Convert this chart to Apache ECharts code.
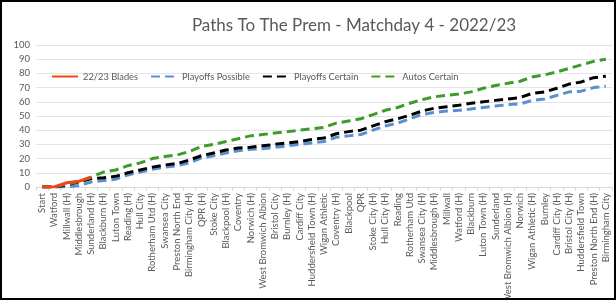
<!DOCTYPE html>
<html>
<head>
<meta charset="utf-8">
<script src="https://cdn.jsdelivr.net/npm/echarts@6/dist/echarts.min.js"></script>
<style>
  html, body { margin: 0; padding: 0; background: #fff; }
  #chart { width: 616px; height: 300px; }
  #frame { position: absolute; left: 0; top: 0; width: 616px; height: 300px; box-sizing: border-box; border: 2px solid #000; pointer-events: none; }
</style>
</head>
<body>
<div id="chart"></div>
<div id="frame"></div>
<script>
const fixtures = ['Start', 'Watford', 'Millwall (H)', 'Middlesbrough', 'Sunderland (H)', 'Blackburn (H)',
  'Luton Town', 'Reading (H)', 'Hull City', 'Rotherham Utd (H)', 'Swansea City', 'Preston North End',
  'Birmingham City (H)', 'QPR (H)', 'Stoke City', 'Blackpool (H)', 'Coventry', 'Norwich (H)',
  'West Bromwich Albion', 'Bristol City', 'Burnley (H)', 'Cardiff City', 'Huddersfield Town (H)',
  'Wigan Athletic', 'Coventry (H)', 'Blackpool', 'QPR', 'Stoke City (H)', 'Hull City (H)', 'Reading',
  'Rotherham Utd', 'Swansea City (H)', 'Middlesbrough (H)', 'Millwall', 'Watford (H)', 'Blackburn',
  'Luton Town (H)', 'Sunderland', 'West Bromwich Albion (H)', 'Norwich', 'Wigan Athletic (H)',
  'Burnley', 'Cardiff City (H)', 'Bristol City (H)', 'Huddersfield Town', 'Preston North End (H)',
  'Birmingham City']

// points after each game
const blades = [0, 0, 3, 4, 7]
const playoffsPossible = [0, 0, 0, 1, 3.5, 4.5, 5.5, 8.5, 10.5, 12.5, 14, 15, 17, 20.5, 22, 24, 25.5,
  26.5, 27, 28, 29, 30, 31, 32, 35, 36, 37, 40, 43, 45, 48, 51, 52.5, 53.5, 54, 55, 56, 57, 58, 58.5,
  61, 62, 64.5, 67, 67.5, 70, 71]
const playoffsCertain = [0, 0, 1.5, 3.5, 6, 6.5, 7.5, 10, 12, 14, 15.5, 16.5, 19, 22, 24, 26, 27.5,
  28, 29, 30, 31, 32, 33.5, 34.5, 37.5, 39, 40, 43, 46, 48, 50.5, 53.5, 55.5, 56.5, 57.5, 59, 60, 61,
  62, 63, 66, 67, 69.5, 72.5, 74, 77, 78]
const autosCertain = [0, 0, 2, 4, 7, 10.5, 12, 15, 17, 20, 21.5, 22.5, 25, 28.5, 30, 32, 34, 36, 37,
  38, 39, 40, 41, 42, 45, 46.5, 48, 51, 54, 56, 59, 61.5, 63.5, 64.5, 65.5, 67, 69.5, 71.5, 73, 74.5,
  77.5, 79, 81, 83.5, 86, 88.5, 90]

const chart = echarts.init(document.getElementById('chart'))
const font = 'Lato, "Open Sans", sans-serif'
const dash = [9, 5]

chart.setOption({
  animation: false,
  textStyle: { fontFamily: font },
  title: {
    text: 'Paths To The Prem - Matchday 4 - 2022/23',
    left: 349,
    textAlign: 'center',
    top: 12,
    textStyle: { fontFamily: font, fontSize: 17, fontWeight: 'normal', color: '#595959' }
  },
  legend: {
    top: 67,
    left: 46,
    itemWidth: 26,
    itemHeight: 10,
    itemGap: 12,
    itemStyle: { opacity: 0 },
    textStyle: { fontFamily: font, fontSize: 9.3, color: '#595959' },
    data: ['22/23 Blades', 'Playoffs Possible', 'Playoffs Certain', 'Autos Certain']
  },
  grid: { left: 36, right: 4, top: 45, bottom: 113, outerBoundsMode: 'none' },
  xAxis: {
    type: 'category',
    data: fixtures,
    boundaryGap: true,
    axisLine: { lineStyle: { color: '#d9d9d9' } },
    axisTick: { show: true, length: 4, lineStyle: { color: '#d9d9d9' } },
    axisLabel: { rotate: 90, interval: 0, fontSize: 9.5, color: '#595959', margin: 6 }
  },
  yAxis: {
    type: 'value',
    min: 0,
    max: 100,
    interval: 10,
    axisLabel: { fontSize: 9.5, color: '#595959', margin: 6 },
    splitLine: { lineStyle: { color: '#e4e4e4' } }
  },
  series: [{
    name: '22/23 Blades',
    type: 'line',
    data: blades,
    symbol: 'none',
    z: 5,
    itemStyle: { color: '#f0441a' },
    lineStyle: { color: '#f0441a', width: 3 }
  }, {
    name: 'Playoffs Possible',
    type: 'line',
    data: playoffsPossible,
    symbol: 'none',
    itemStyle: { color: '#5b8fd3' },
    lineStyle: { color: '#5b8fd3', width: 3, type: dash }
  }, {
    name: 'Playoffs Certain',
    type: 'line',
    data: playoffsCertain,
    symbol: 'none',
    itemStyle: { color: '#000000' },
    lineStyle: { color: '#000000', width: 3, type: dash }
  }, {
    name: 'Autos Certain',
    type: 'line',
    data: autosCertain,
    symbol: 'none',
    itemStyle: { color: '#3d9a2b' },
    lineStyle: { color: '#3d9a2b', width: 3, type: dash }
  }]
})
</script>
</body>
</html>
